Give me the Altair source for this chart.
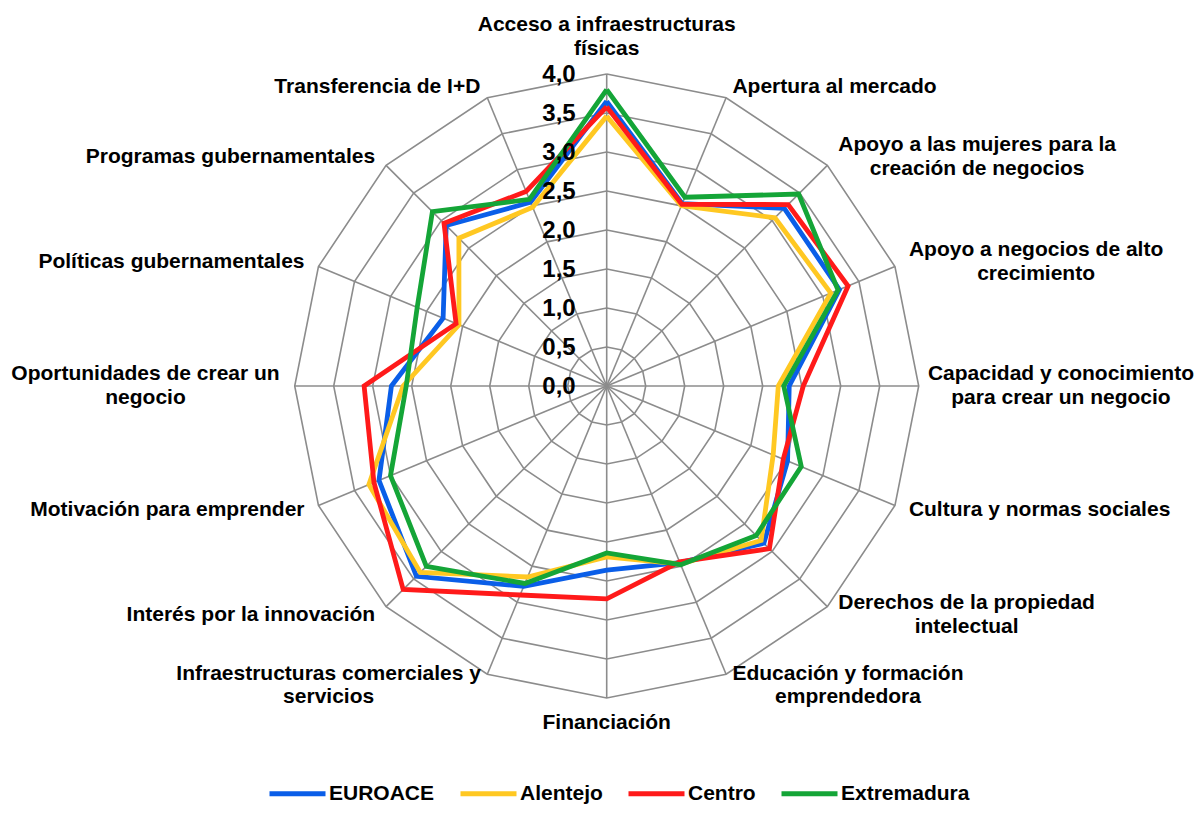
import math
import altair as alt
import pandas as pd

# ---------------- data ----------------
label_lines = [
    ["Acceso a infraestructuras", "físicas"],
    ["Apertura al mercado"],
    ["Apoyo a las mujeres para la", "creación de negocios"],
    ["Apoyo a negocios de alto", "crecimiento"],
    ["Capacidad y conocimiento", "para crear un negocio"],
    ["Cultura y normas sociales"],
    ["Derechos de la propiedad", "intelectual"],
    ["Educación y formación", "emprendedora"],
    ["Financiación"],
    ["Infraestructuras comerciales y", "servicios"],
    ["Interés por la innovación"],
    ["Motivación para emprender"],
    ["Oportunidades de crear un", "negocio"],
    ["Políticas gubernamentales"],
    ["Programas gubernamentales"],
    ["Transferencia de I+D"],
]

series_names = ["EUROACE", "Alentejo", "Centro", "Extremadura"]
euroace = [3.65, 2.53, 3.22, 3.23, 2.34, 2.51, 2.85, 2.45, 2.36, 2.78, 3.45, 3.16, 2.76, 2.27, 2.91, 2.55]
alentejo = [3.46, 2.50, 3.05, 3.11, 2.20, 2.31, 2.80, 2.47, 2.19, 2.65, 3.38, 3.30, 2.61, 2.05, 2.68, 2.48]
centro = [3.58, 2.52, 3.29, 3.35, 2.52, 2.45, 2.95, 2.44, 2.73, 2.90, 3.69, 3.23, 3.11, 2.09, 2.95, 2.70]
extremadura = [3.80, 2.62, 3.48, 3.21, 2.27, 2.70, 2.71, 2.48, 2.14, 2.74, 3.27, 3.00, 2.57, 2.63, 3.16, 2.59]
series_values = [euroace, alentejo, centro, extremadura]
series_colors = ["#0A5EE8", "#FFC822", "#FF1A1A", "#14A537"]

tick_values = [0.0, 0.5, 1.0, 1.5, 2.0, 2.5, 3.0, 3.5, 4.0]
tick_labels = ["0,0", "0,5", "1,0", "1,5", "2,0", "2,5", "3,0", "3,5", "4,0"]
grid_levels = tick_values[1:]
r_max = 4.0

# ---------------- geometry of the view ----------------
N = len(label_lines)
W, H = 1187, 800
PX = 78.0                       # pixels per data unit
CX, CY = 598.7, 378.0           # centre inside the plot area
x_dom = [-CX / PX, (W - CX) / PX]
y_dom = [-(H - CY) / PX, CY / PX]
xs = alt.Scale(domain=x_dom, nice=False, zero=False)
ys = alt.Scale(domain=y_dom, nice=False, zero=False)
FONT = "Liberation Sans"
FS = 21
LH = 23.5

ang_expr = "datum.idx * 2 * PI / %d" % N

# ---------------- tables ----------------
rows = []
for name, vals in zip(series_names, series_values):
    for i in range(N + 1):
        rows.append({"serie": name, "idx": i, "value": vals[i % N]})
series_df = pd.DataFrame(rows)

grid_df = pd.DataFrame([{"level": lv, "idx": i, "value": lv}
                        for lv in grid_levels for i in range(N + 1)])
spoke_df = pd.DataFrame([{"idx": i, "value": r_max} for i in range(N)])
tick_df = pd.DataFrame({"value": tick_values, "lab": tick_labels})

# approximate Arial/Liberation Sans Bold advance widths (per 1000 em)
CW = {" ": 278, "+": 584, ",": 278}
for ch in "ACDNRUHKXB":
    CW[ch] = 722
CW.update({"E": 667, "I": 278, "M": 833, "O": 778, "G": 778, "P": 667,
           "S": 667, "T": 611, "F": 611, "L": 611})
for ch in "abcdeghknopqsuvxyáéóúñ":
    CW[ch] = 611 if ch in "bdghnopquóúñ" else 556
for ch in "iljí":
    CW[ch] = 278
CW.update({"f": 333, "t": 333, "r": 389, "m": 889, "w": 778, "z": 500})


def text_w(s):
    return sum(CW.get(c, 580) for c in s) * FS / 1000.0


right_limit = (W - CX) - 1.0
left_limit = -CX + 1.0
lab_rows = []
for i, lines in enumerate(label_lines):
    a = i * 2 * math.pi / N
    s, c = math.sin(a), math.cos(a)
    w = max(text_w(t) for t in lines)
    nl = len(lines)
    side = 0 if abs(s) < 0.1 else (1 if s > 0 else -1)
    gap = 14 * abs(s) + 1
    lx = r_max * PX * s + side * (gap + w / 2)
    lx = min(lx, right_limit - w / 2)
    lx = max(lx, left_limit + w / 2)
    if side == 0:
        ly = r_max * PX * c + c * (13 + 12 * nl)
    else:
        ly = r_max * PX * c + c * 12
    # multi-line text is drawn from the first line downward: lift it so the block is centred
    ly += (nl - 1) * LH / 2
    lab_rows.append({"lx": lx / PX, "ly": ly / PX, "txt": "\n".join(lines)})
lab_df = pd.DataFrame(lab_rows)

# ---------------- layers ----------------
def polar(ch):
    return ch.transform_calculate(
        ang=ang_expr
    ).transform_calculate(
        px="datum.value * sin(datum.ang)",
        py="datum.value * cos(datum.ang)",
    )


grid = polar(alt.Chart(grid_df)).mark_line(color="#8C8C8C", strokeWidth=1.6).encode(
    x=alt.X("px:Q", scale=xs, axis=None),
    y=alt.Y("py:Q", scale=ys, axis=None),
    detail="level:N",
    order="idx:Q",
)

spokes = polar(alt.Chart(spoke_df)).transform_calculate(zero="0").mark_rule(
    color="#8C8C8C", strokeWidth=1.6
).encode(
    x=alt.X("zero:Q", scale=xs, axis=None),
    y=alt.Y("zero:Q", scale=ys, axis=None),
    x2="px:Q",
    y2="py:Q",
)

legend = alt.Legend(
    orient="none", legendX=259, legendY=755, direction="horizontal", title=None,
    symbolType="stroke", symbolSize=3136, symbolStrokeWidth=5,
    labelFontSize=21, labelFont=FONT, labelFontWeight="bold", labelColor="black",
    columnPadding=15, labelOffset=1, padding=0,
)
color = alt.Color("serie:N", scale=alt.Scale(domain=series_names, range=series_colors),
                  legend=legend)

series_layers = []
for name in series_names:
    series_layers.append(
        polar(alt.Chart(series_df)).transform_filter(alt.datum.serie == name)
        .mark_line(strokeWidth=4.8, strokeJoin="miter")
        .encode(
            x=alt.X("px:Q", scale=xs, axis=None),
            y=alt.Y("py:Q", scale=ys, axis=None),
            order="idx:Q",
            color=color,
        )
    )

ticks = alt.Chart(tick_df).transform_calculate(zero="0").mark_text(
    align="right", baseline="middle", dx=-31, dy=1, font=FONT, fontSize=24,
    fontWeight="bold", color="black"
).encode(
    x=alt.X("zero:Q", scale=xs, axis=None),
    y=alt.Y("value:Q", scale=ys, axis=None),
    text="lab:N",
)

labels = alt.Chart(lab_df).mark_text(
    align="center", baseline="middle", font=FONT, fontSize=FS, fontWeight="bold",
    color="black", lineBreak="\n", lineHeight=LH
).encode(
    x=alt.X("lx:Q", scale=xs, axis=None),
    y=alt.Y("ly:Q", scale=ys, axis=None),
    text="txt:N",
)

chart = alt.layer(grid, spokes, *series_layers, ticks, labels).properties(
    width=W, height=H, autosize="none", padding=0, background="white"
).configure_view(stroke=None)

chart.save("out.html", embed_options={"renderer": "svg", "actions": False})
